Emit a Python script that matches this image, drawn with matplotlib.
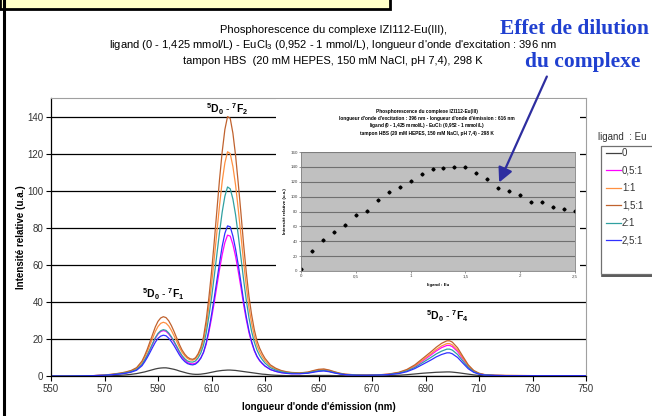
import matplotlib
matplotlib.use("Agg")
import matplotlib.pyplot as plt
from matplotlib.patches import Rectangle, FancyArrowPatch
from matplotlib.lines import Line2D

plt.rcParams['font.family'] = ['Liberation Sans', 'DejaVu Sans']
plt.rcParams['mathtext.fontset'] = 'custom'
plt.rcParams['mathtext.rm'] = 'Liberation Sans'
plt.rcParams['mathtext.it'] = 'Liberation Sans:italic'
plt.rcParams['mathtext.bf'] = 'Liberation Sans:bold'

# ---------------- data ----------------
wavelength = [550, 556, 562, 566, 570, 573, 576, 578, 580, 582, 584, 585, 586, 587, 588,
              589, 590, 591, 592, 593, 594, 595, 596, 597, 598, 599, 600, 601, 602, 603,
              604, 605, 606, 607, 608, 609, 610, 611, 612, 613, 614, 615, 616, 617, 618,
              619, 620, 621, 622, 623, 624, 625, 626, 627, 628, 629, 630, 632, 634, 636,
              638, 640, 643, 646, 648, 650, 652, 654, 656, 658, 660, 664, 668, 672, 676,
              680, 683, 686, 689, 692, 694, 696, 698, 699, 700, 702, 704, 706, 708, 710,
              712, 716, 720, 730, 740, 750]

ratio_0 = [0, 0, 0, 0, 0.1, 0.2, 0.4, 0.6, 0.9, 1.3, 1.9, 2.2, 2.6, 3, 3.4,
           3.8, 4.1, 4.3, 4.4, 4.4, 4.2, 3.9, 3.6, 3.2, 2.7, 2.3, 1.9, 1.5, 1.2, 1,
           0.9, 0.9, 1, 1.2, 1.4, 1.7, 2, 2.3, 2.6, 2.8, 3, 3.1, 3.2, 3.2, 3.1,
           3, 2.8, 2.6, 2.4, 2.2, 2, 1.8, 1.6, 1.4, 1.2, 1, 0.9, 0.6, 0.4, 0.3,
           0.2, 0.2, 0.2, 0.2, 0.3, 0.3, 0.3, 0.3, 0.2, 0.2, 0.1, 0.1, 0.1, 0.1, 0.2,
           0.4, 0.7, 1.1, 1.5, 1.8, 2, 2.1, 2.2, 2.2, 2.1, 1.8, 1.4, 1, 0.6, 0.3,
           0.2, 0.1, 0, 0, 0, 0]

ratio_05 = [0, 0, 0.1, 0.2, 0.4, 0.8, 1.3, 1.7, 2.4, 3.5, 6.1, 8.4, 11.1, 14.1, 17.2,
            20.3, 22.6, 24, 24.5, 24.1, 22.7, 20.7, 18.2, 15.5, 12.7, 10.4, 8.6, 7.3, 6.7, 6.5,
            6.9, 8, 9.8, 12.6, 17, 23.5, 31, 39.5, 48.5, 57.5, 65.5, 72, 76, 75.5, 71,
            64.5, 56.5, 47.8, 38.5, 30.4, 23.4, 18, 13.6, 10.4, 8.2, 6.6, 5.3, 3.5, 2.5, 1.9,
            1.5, 1.3, 1.3, 1.7, 2.3, 2.9, 3.1, 2.6, 1.9, 1.2, 0.8, 0.5, 0.4, 0.5, 0.9,
            1.7, 3, 5.2, 8.2, 11.3, 13.5, 15.3, 16.5, 16.5, 15.9, 13.2, 9.1, 5.2, 2.6, 1.3,
            0.7, 0.3, 0.2, 0.2, 0.2, 0.2]

ratio_1 = [0, 0, 0.1, 0.2, 0.5, 0.9, 1.5, 2, 2.8, 4.1, 7.2, 10, 13.1, 16.8, 20.4,
           24, 26.7, 28.4, 29, 28.5, 27, 24.6, 21.7, 18.6, 15.4, 12.8, 10.9, 9.5, 8.7, 8.5,
           9.2, 11.2, 14.2, 19, 26.5, 37, 49, 63, 77.5, 92, 105, 115, 121, 120, 113,
           103, 90, 76, 61.5, 48.5, 37, 28.5, 21.6, 16.5, 13, 10.4, 8.3, 5.3, 3.7, 2.7,
           2.1, 1.7, 1.6, 2, 2.7, 3.3, 3.5, 3, 2.1, 1.4, 0.9, 0.6, 0.5, 0.6, 0.9,
           1.8, 3.2, 5.5, 8.7, 12, 14.3, 16.2, 17.5, 17.5, 16.8, 14, 9.7, 5.5, 2.8, 1.4,
           0.7, 0.4, 0.3, 0.2, 0.2, 0.2]

ratio_15 = [0, 0, 0.1, 0.2, 0.5, 1, 1.6, 2.2, 3, 4.5, 8, 11, 14.5, 18.5, 22.5,
            26.5, 29.5, 31.3, 32, 31.5, 29.8, 27.2, 24, 20.5, 17, 14, 11.8, 10.2, 9.3, 9,
            9.8, 12, 15.5, 21, 30, 42, 56, 72, 89, 106, 121, 133, 140, 139, 131,
            119, 104, 88, 71, 56, 43, 33, 25, 19, 15, 12, 9.5, 6, 4.2, 3,
            2.3, 1.9, 1.7, 2.1, 2.9, 3.6, 3.8, 3.2, 2.3, 1.5, 1, 0.6, 0.5, 0.6, 1,
            2, 3.5, 6, 9.5, 13, 15.5, 17.6, 19, 19, 18.3, 15.2, 10.5, 6, 3, 1.5,
            0.8, 0.4, 0.3, 0.2, 0.2, 0.2]

ratio_2 = [0, 0, 0.1, 0.2, 0.4, 0.8, 1.3, 1.7, 2.4, 3.5, 6.2, 8.6, 11.3, 14.4, 17.6,
           20.7, 23, 24.4, 25, 24.6, 23.2, 21.2, 18.7, 16, 13.3, 11, 9.3, 8.1, 7.6, 7.5,
           8.1, 9.8, 12.4, 16.5, 23, 32, 42, 53.5, 65.5, 77.5, 88.5, 97, 102, 101, 95.5,
           87, 76, 64, 52, 41, 31.5, 24, 18.3, 14, 11, 8.8, 7, 4.5, 3.2, 2.3,
           1.8, 1.5, 1.4, 1.7, 2.3, 2.8, 3, 2.5, 1.8, 1.2, 0.8, 0.5, 0.4, 0.5, 0.8,
           1.5, 2.7, 4.6, 7.3, 10, 11.9, 13.4, 14.5, 14.5, 14, 11.6, 8, 4.6, 2.3, 1.1,
           0.6, 0.3, 0.2, 0.2, 0.2, 0.2]

ratio_25 = [0, 0, 0.1, 0.2, 0.4, 0.7, 1.1, 1.5, 2.1, 3.1, 5.5, 7.6, 10, 12.7, 15.5,
            18.2, 20.3, 21.5, 22, 21.7, 20.4, 18.6, 16.4, 13.9, 11.4, 9.3, 7.8, 6.7, 6.2, 6,
            6.4, 7.6, 9.6, 12.8, 17.8, 24.7, 33, 42, 51.5, 61, 70, 77, 81, 80.5, 75.5,
            68.5, 60, 50.5, 40.5, 32, 24.5, 18.6, 14, 10.7, 8.4, 6.8, 5.4, 3.5, 2.5, 1.8,
            1.4, 1.2, 1.2, 1.5, 2, 2.5, 2.7, 2.3, 1.6, 1.1, 0.7, 0.4, 0.4, 0.5, 0.7,
            1.3, 2.3, 4, 6.3, 8.6, 10.3, 11.6, 12.5, 12.5, 12, 10, 6.9, 3.9, 2, 1,
            0.5, 0.3, 0.2, 0.2, 0.2, 0.2]

series_labels = ['0', '0,5:1', '1:1', '1,5:1', '2:1', '2,5:1']
series_colors = ['#404040', '#ff00ff', '#ff9040', '#c0622e', '#30a0a0', '#3030ff']
series_values = [ratio_0, ratio_05, ratio_1, ratio_15, ratio_2, ratio_25]

# inset: intensity at 616 nm vs ligand:Eu ratio
ratio_x = [0, 0.1, 0.2, 0.3, 0.4, 0.5, 0.6, 0.7, 0.8, 0.9, 1.0, 1.1, 1.2, 1.3,
           1.4, 1.5, 1.6, 1.7, 1.8, 1.9, 2.0, 2.1, 2.2, 2.3, 2.4, 2.5]
intensity_616 = [2.7, 26.4, 41.6, 51.8, 61.7, 75.5, 81.3, 95.2, 106.4, 113.1, 120.7,
                 130.5, 136.8, 138.5, 139.4, 140.3, 131.4, 124.2, 112.2, 107.7, 101.9,
                 92.5, 92.5, 86.7, 82.7, 80.9]

x_ticks = [550, 570, 590, 610, 630, 650, 670, 690, 710, 730, 750]
y_ticks = [0, 20, 40, 60, 80, 100, 120, 140]
inset_x_ticks = [0, 0.5, 1, 1.5, 2, 2.5]
inset_x_ticklabels = ['0', '0,5', '1', '1,5', '2', '2,5']
inset_y_ticks = [0, 20, 40, 60, 80, 100, 120, 140, 160]

W, H = 652, 416
fig = plt.figure(figsize=(W / 100, H / 100), dpi=100)


def fx(px):
    return px / W


def fy(py):
    return 1 - py / H


# ---------------- decorations ----------------
fig.add_artist(Rectangle((fx(0), fy(9)), fx(390), 20 / H, transform=fig.transFigure,
                         facecolor='#ffffc8', edgecolor='black', lw=2, zorder=5))
fig.add_artist(Line2D([fx(4), fx(4)], [0, 1], transform=fig.transFigure,
                      color='black', lw=2.2, zorder=5))

# ---------------- main axes ----------------
ax = fig.add_axes([fx(51), fy(376), fx(586 - 51), (376 - 98) / H])
ax.set_zorder(0)
for vals, lab, col in zip(series_values, series_labels, series_colors):
    ax.plot(wavelength, vals, color=col, lw=0.9, label=lab)

ax.set_xlim(550, 750)
ax.set_ylim(0, 150)
ax.set_xticks(x_ticks)
ax.set_yticks(y_ticks)
ax.yaxis.grid(True, color='black', lw=0.9)
ax.set_axisbelow(True)
ax.tick_params(axis='both', labelsize=7, colors='black', labelcolor='#333333',
               direction='out', length=3.5, width=0.8, pad=2)
for s in ['top', 'right']:
    ax.spines[s].set_color('#a0a0a0')
    ax.spines[s].set_linewidth(0.8)
for s in ['left', 'bottom']:
    ax.spines[s].set_color('black')
    ax.spines[s].set_linewidth(0.9)
ax.set_xlabel("longueur d'onde d'émission (nm)", fontsize=7, fontweight='bold', labelpad=6)
ax.set_ylabel("Intensité relative (u.a.)", fontsize=7, fontweight='bold', labelpad=1)

ann_kw = dict(fontsize=7.5, ha='center', va='center', color='black')
ax.text(616, 144, r'$^{\mathbf{5}}\mathbf{D}_{\mathbf{0}}$ - $^{\mathbf{7}}\mathbf{F}_{\mathbf{2}}$', **ann_kw)
ax.text(592, 44, r'$^{\mathbf{5}}\mathbf{D}_{\mathbf{0}}$ - $^{\mathbf{7}}\mathbf{F}_{\mathbf{1}}$', **ann_kw)
ax.text(698, 32.5, r'$^{\mathbf{5}}\mathbf{D}_{\mathbf{0}}$ - $^{\mathbf{7}}\mathbf{F}_{\mathbf{4}}$', **ann_kw)

# main title
title_lines = ["Phosphorescence du complexe IZI112-Eu(III),",
               "ligand (0 - 1,425 mmol/L) - EuCl$_3$ (0,952 - 1 mmol/L), longueur d'onde d'excitation : 396 nm",
               "tampon HBS  (20 mM HEPES, 150 mM NaCl, pH 7,4), 298 K"]
for i, t in enumerate(title_lines):
    fig.text(fx(333), fy(30 + 15.5 * i), t, fontsize=8, ha='center', va='center', color='black')

# legend
handles, labels = ax.get_legend_handles_labels()
leg = fig.legend(handles, labels, loc='upper left', bbox_to_anchor=(fx(604), fy(146)),
                 frameon=False, fontsize=7, handlelength=1.5, handletextpad=0.15,
                 labelspacing=0.78, borderpad=0.2, borderaxespad=0)
for t in leg.get_texts():
    t.set_color('#333333')
fig.add_artist(Rectangle((fx(601), fy(274)), fx(60), (274 - 146) / H, transform=fig.transFigure,
                         facecolor='white', edgecolor='#707070', lw=0.9, zorder=0.5))
fig.add_artist(Line2D([fx(602), fx(652)], [fy(275.5), fy(275.5)], transform=fig.transFigure,
                      color='#404040', lw=1.2, zorder=0.6))
fig.text(fx(598), fy(137), "ligand  : Eu", fontsize=7, ha='left', va='center', color='#333333')

# ---------------- inset ----------------
fig.add_artist(Rectangle((fx(276), fy(295)), fx(580 - 276), (295 - 99) / H,
                         transform=fig.transFigure, facecolor='white', edgecolor='none', zorder=1))
axi = fig.add_axes([fx(301), fy(271), fx(575 - 301), (271 - 152) / H])
axi.set_zorder(2)
axi.set_facecolor('#c0c0c0')
axi.plot(ratio_x, intensity_616, linestyle='none', marker='D', ms=1.6, color='black')
axi.set_xlim(0, 2.5)
axi.set_ylim(0, 160)
axi.set_xticks(inset_x_ticks)
axi.set_xticklabels(inset_x_ticklabels)
axi.set_yticks(inset_y_ticks)
axi.yaxis.grid(True, color='#707070', lw=0.8)
axi.set_axisbelow(True)
axi.tick_params(axis='both', labelsize=3.2, labelcolor='#444444', color='#707070',
                direction='out', length=1.5, width=0.5, pad=1)
for s in axi.spines.values():
    s.set_color('#808080')
    s.set_linewidth(0.6)
axi.set_xlabel("ligand : Eu", fontsize=3.2, fontweight='bold', labelpad=3)
axi.set_ylabel("Intensité relative (u.a.)", fontsize=3.2, fontweight='bold', labelpad=2)
inset_title = ["Phosphorescence du complexe IZI112-Eu(III)",
               "longueur d'onde d'excitation : 396 nm - longueur d'onde d'émission : 616 nm",
               "ligand (0 - 1,425 mmol/L) - EuCl$_3$ (0,952 - 1 mmol/L)",
               "tampon HBS (20 mM HEPES, 150 mM NaCl, pH 7,4) - 298 K"]
for i, t in enumerate(inset_title):
    fig.text(fx(427), fy(111 + 7.4 * i), t, fontsize=3.4, fontweight='bold', ha='center',
             va='center', color='black', zorder=3)

# ---------------- blue annotation ----------------
blue = '#2040d0'
fig.text(fx(574), fy(29), "Effet de dilution", family='Liberation Serif', fontweight='bold',
         fontsize=15.5, color=blue, ha='center', va='center', zorder=6)
fig.text(fx(583), fy(62), "du complexe", family='Liberation Serif', fontweight='bold',
         fontsize=15.5, color=blue, ha='center', va='center', zorder=6)
fig.add_artist(FancyArrowPatch((fx(548), fy(74)), (fx(498), fy(185)), transform=fig.transFigure,
                               arrowstyle='-|>', mutation_scale=22, color='#2e2ea0', lw=1.6,
                               zorder=6))

fig.savefig('out.png', dpi=100)
